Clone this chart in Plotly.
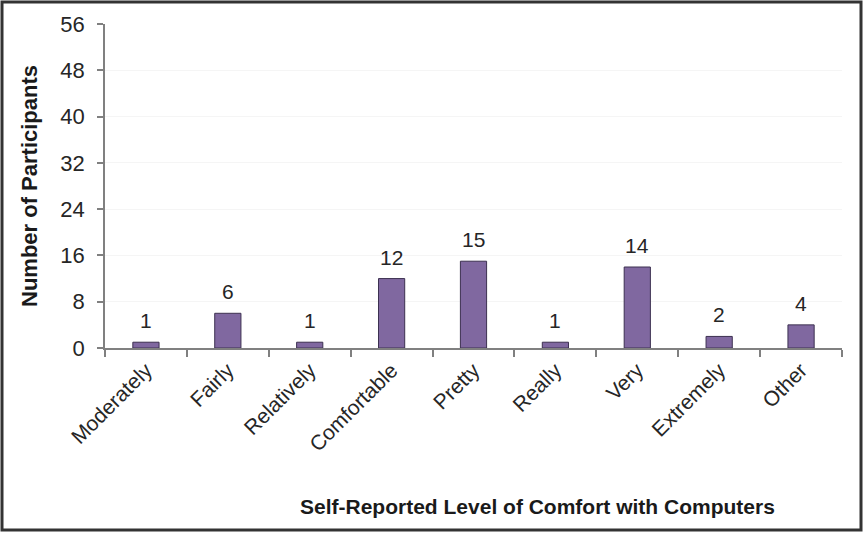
import plotly.graph_objects as go

categories = ["Moderately", "Fairly", "Relatively", "Comfortable", "Pretty",
              "Really", "Very", "Extremely", "Other"]
participants = [1, 6, 1, 12, 15, 1, 14, 2, 4]
y_ticks = [0, 8, 16, 24, 32, 40, 48, 56]
x_title = "Self-Reported Level of Comfort with Computers"
y_title = "Number of Participants"

FONT = "Liberation Sans, Arial, sans-serif"
TXT = "#262626"
PW, PH = 737, 324  # plot area size in px

fig = go.Figure()
fig.add_trace(go.Bar(
    x=categories, y=participants,
    marker=dict(color="#8068A0", line=dict(color="#3c3050", width=1)),
    width=0.32,
))
for c, v in zip(categories, participants):
    fig.add_annotation(x=c, y=v, text=str(v), showarrow=False,
                       yanchor="bottom", yshift=8,
                       font=dict(family=FONT, size=21, color=TXT))

fig.add_annotation(xref="paper", yref="paper", x=(298 - 105) / PW, y=-(506 - 348) / PH,
                   xanchor="left", yanchor="middle", showarrow=False,
                   text="<b>" + x_title + "</b>",
                   font=dict(family=FONT, size=21, color="#1a1a1a"))
fig.add_annotation(xref="paper", yref="paper", x=-(105 - 29) / PW, y=(348 - 186) / PH,
                   xanchor="center", yanchor="middle", showarrow=False, textangle=-90,
                   text="<b>" + y_title + "</b>",
                   font=dict(family=FONT, size=22, color="#1a1a1a"))

fig.update_layout(
    width=864, height=534,
    margin=dict(l=105, r=22, t=24, b=186, autoexpand=False),
    paper_bgcolor="white", plot_bgcolor="white",
    showlegend=False,
    font=dict(family=FONT, color=TXT),
    shapes=[dict(type="rect", xref="paper", yref="paper",
                 x0=-103 / PW, x1=1 + 19 / PW, y0=-182 / PH, y1=1 + 22 / PH,
                 line=dict(color="#333333", width=3))],
)
fig.update_xaxes(
    automargin=False,
    tickangle=-45, tickfont=dict(size=21, family=FONT, color=TXT),
    showline=True, linecolor="#808080", linewidth=1.5,
    ticks="outside", ticklen=7, tickcolor="#808080", tickwidth=1.5,
    tickson="boundaries", showgrid=False,
)
fig.update_yaxes(
    automargin=False,
    range=[0, 56], tickvals=y_ticks,
    tickfont=dict(size=22, family=FONT, color=TXT),
    ticklabelstandoff=8,
    showline=True, linecolor="#808080", linewidth=1.5,
    ticks="outside", ticklen=6, tickcolor="#808080", tickwidth=1.5,
    showgrid=True, gridcolor="#f5f5f5", zeroline=False,
)

fig.write_html("out.html", config={"displayModeBar": False},
               post_script="document.body.style.margin='0px';document.body.style.overflow='hidden';")
